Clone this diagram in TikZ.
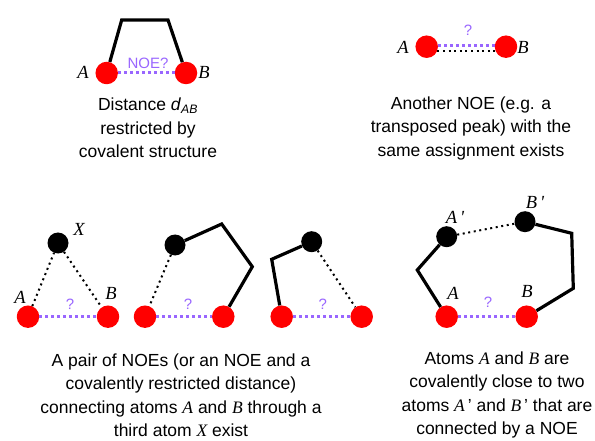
\documentclass[tikz,border=0pt]{standalone}
\usepackage{fontspec}
\setmainfont{Liberation Sans}
\newfontfamily\labfont{Liberation Serif}
\usetikzlibrary{positioning}
\definecolor{noeviolet}{RGB}{153,102,255}
\newcommand{\atm}[1]{{\labfont\itshape #1}}

\begin{document}
\begin{tikzpicture}[x=1pt,y=-1pt,font=\fontsize{17.5}{23.5}\selectfont,
  redatom/.style={circle,fill=red,minimum size=22.5pt,inner sep=0pt},
  blkatom/.style={circle,fill=black,minimum size=21pt,inner sep=0pt},
  bond/.style={line width=3.2pt,line join=miter},
  noe/.style={line width=2pt,dash pattern=on 2pt off 3.6pt},
  query/.style={noeviolet,line width=3pt,dash pattern=on 3pt off 3pt},
  qmark/.style={text=noeviolet,font=\fontsize{15}{15}\selectfont},
  atlab/.style={font=\fontsize{18.5}{18.5}\selectfont},
  caption/.style={align=center}]
  \useasboundingbox (0,0) rectangle (595,441);
  % covalent distance
  \node[redatom] (a1) at (106.7,73) {};
  \node[redatom] (b1) at (186,73) {};
  \coordinate (c1) at (121.7,20); \coordinate (d1) at (168,20);
  \draw[bond] (a1) -- (c1) -- (d1) -- (b1);
  \draw[query] (a1) -- (b1);
  \node[qmark] (q1) at (148,63) {NOE?};
  \node[atlab] (la1) at (83,72) {\atm{A}};
  \node[atlab] (lb1) at (204,72) {\atm{B}};
  \node[caption] (t1) at (148,128) {Distance \textit{d}\textsubscript{\textit{AB}}\\restricted by\\covalent structure};
  % second NOE
  \node[redatom] (a2) at (426.7,46.7) {};
  \node[redatom] (b2) at (506,46.7) {};
  \draw[query] (a2.8) -- (b2.172);
  \draw[noe] (a2.-20) -- (b2.-160);
  \node[qmark] (q2) at (468,30) {?};
  \node[atlab] (la2) at (403,47) {\atm{A}};
  \node[atlab] (lb2) at (523,47) {\atm{B}};
  \node[caption] (t2) at (471,128) {Another NOE (e.g. a\\transposed peak) with the\\same assignment exists};
  % third atom X
  \node[redatom] (a3) at (28,316.7) {};
  \node[redatom] (b3) at (108,316.7) {};
  \node[blkatom] (x3) at (58,243) {};
  \draw[noe] (a3) -- (x3); \draw[noe] (x3) -- (b3);
  \draw[query] (a3) -- (b3);
  \node[qmark] (q3) at (70,304) {?};
  \node[atlab] (la3) at (20,297) {\atm{A}};
  \node[atlab] (lb3) at (111,293) {\atm{B}};
  \node[atlab] (lx3) at (79,229) {\atm{X}};
  \node[redatom] (a4) at (145,316.7) {};
  \node[redatom] (b4) at (223.3,316.7) {};
  \node[blkatom] (x4) at (175,245) {};
  \coordinate (c4) at (221.7,224); \coordinate (d4) at (252.3,266.7);
  \draw[bond] (x4) -- (c4) -- (d4) -- (b4);
  \draw[noe] (x4) -- (a4);
  \draw[query] (a4) -- (b4);
  \node[qmark] (q4) at (188,304) {?};
  \node[redatom] (a5) at (281.7,316.7) {};
  \node[redatom] (b5) at (361.7,316.7) {};
  \node[blkatom] (x5) at (311.7,241.7) {};
  \coordinate (c5) at (271.7,259.3);
  \draw[bond] (a5) -- (c5) -- (x5);
  \draw[noe] (x5) -- (b5);
  \draw[query] (a5) -- (b5);
  \node[qmark] (q5) at (322.7,304) {?};
  \node[caption] (t3) at (181,395) {A pair of NOEs (or an NOE and a\\covalently restricted distance)\\connecting atoms \atm{A} and \atm{B} through a\\third atom \atm{X} exist};
  % neighbours A' and B'
  \node[redatom] (a6) at (446.7,316.7) {};
  \node[redatom] (b6) at (526.7,316.7) {};
  \node[blkatom] (a6p) at (446.7,236.7) {};
  \node[blkatom] (b6p) at (525,221.7) {};
  \coordinate (c6) at (417.3,270);
  \coordinate (d6) at (571.7,233.3); \coordinate (e6) at (573.3,288.3);
  \draw[bond] (a6) -- (c6) -- (a6p);
  \draw[bond] (b6p) -- (d6) -- (e6) -- (b6);
  \draw[noe] (a6p) -- (b6p);
  \draw[query] (a6) -- (b6);
  \node[qmark] (q6) at (488,302) {?};
  \node[atlab] (la6) at (453,293) {\atm{A}};
  \node[atlab] (lb6) at (527,291) {\atm{B}};
  \node[atlab] (la6p) at (455,217) {\atm{A\,'}};
  \node[atlab] (lb6p) at (535,202) {\atm{B\,'}};
  \node[caption] (t4) at (497,395) {Atoms \atm{A} and \atm{B} are\\covalently close to two\\atoms \atm{A}\,' and \atm{B}\,' that are\\connected by a NOE};
\end{tikzpicture}
\end{document}
